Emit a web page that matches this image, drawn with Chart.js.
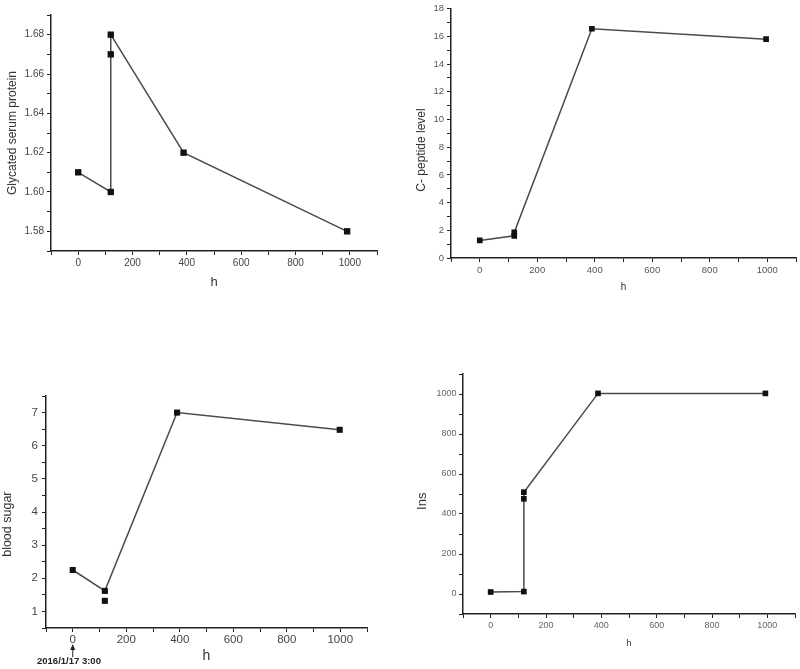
<!DOCTYPE html>
<html>
<head>
<meta charset="utf-8">
<title>Glucose panels</title>
<script src="https://cdn.jsdelivr.net/npm/chart.js@4.4.1/dist/chart.umd.min.js"></script>
<style>
  html, body { margin: 0; padding: 0; background: #fff; }
  #wrap { position: relative; width: 800px; height: 669px; overflow: hidden; }
  .panel { position: absolute; }
  canvas { display: block; }
</style>
</head>
<body>
<div id="wrap">
  <div class="panel" style="left:0;top:0"><canvas id="gsp" width="400" height="300"></canvas></div>
  <div class="panel" style="left:400px;top:0"><canvas id="cpep" width="400" height="300"></canvas></div>
  <div class="panel" style="left:0;top:330px"><canvas id="sugar" width="400" height="339"></canvas></div>
  <div class="panel" style="left:400px;top:330px"><canvas id="ins" width="400" height="339"></canvas></div>
</div>
<script>
// ---------- DATA ----------
const X_TICK_LABELS = [0, 200, 400, 600, 800, 1000];

const GSP_HOURS = [0, 120, 120, 120, 388, 990];
const GSP_VALUES = [1.61, 1.60, 1.67, 1.68, 1.62, 1.58];
const GSP_TICKS = [1.58, 1.60, 1.62, 1.64, 1.66, 1.68];

const CPEP_HOURS = [0, 120, 120, 390, 996];
const CPEP_VALUES = [1.27, 1.6, 1.85, 16.55, 15.8];
const CPEP_TICKS = [0, 2, 4, 6, 8, 10, 12, 14, 16, 18];

const SUGAR_HOURS = [0, 120, 390, 998];
const SUGAR_VALUES = [2.25, 1.62, 7.0, 6.48];
const SUGAR_EXTRA_HOURS = [120];
const SUGAR_EXTRA_VALUES = [1.32];
const SUGAR_TICKS = [1, 2, 3, 4, 5, 6, 7];

const INS_HOURS = [0, 120, 120, 120, 388, 993];
const INS_VALUES = [10, 12, 476, 509, 1003, 1003];
const INS_TICKS = [0, 200, 400, 600, 800, 1000];

const NOTE_TEXT = "2016/1/17 3:00";

const FONT = "'Liberation Sans', Arial, sans-serif";

// ---------- HELPERS ----------
function points(xs, ys) {
  return xs.map((x, i) => ({ x, y: ys[i] }));
}

function labelIf(list, digits) {
  return v => (list.some(t => Math.abs(t - v) < 1e-6) ? Number(v).toFixed(digits) : "");
}

// axis titles in the original sit a little below the axis middle;
// trailing no-break spaces push the rotated text down
function lowered(text, n) {
  return text + "\u00a0".repeat(n);
}

function series(xs, ys, radius, line) {
  return {
    data: points(xs, ys),
    showLine: line,
    borderColor: "#4a4a4a",
    borderWidth: 1.5,
    tension: 0,
    pointStyle: "rect",
    pointRadius: radius,
    pointBackgroundColor: "#111",
    pointBorderColor: "#111",
    pointBorderWidth: 0,
  };
}

function buildPanel(id, p) {
  const datasets = [series(p.hours, p.values, p.marker, true)];
  if (p.extraHours) datasets.push(series(p.extraHours, p.extraValues, p.marker, false));

  return new Chart(document.getElementById(id), {
    type: "scatter",
    data: { datasets },
    options: {
      responsive: false,
      animation: false,
      events: [],
      layout: { padding: { left: 0, top: p.pad.top, right: p.pad.right, bottom: 0 } },
      plugins: { legend: { display: false }, tooltip: { enabled: false } },
      scales: {
        x: {
          type: "linear",
          min: -100,
          max: 1100,
          afterFit: s => { s.height = p.xHeight; },
          border: { color: "#222", width: 1.5 },
          grid: { drawOnChartArea: false, tickLength: 4, tickColor: "#222", tickWidth: 1 },
          ticks: {
            stepSize: 100,
            maxTicksLimit: 100,
            autoSkip: false,
            maxRotation: 0,
            padding: p.xTickPad,
            color: p.tickColor,
            font: { family: FONT, size: p.tickSize },
            callback: labelIf(X_TICK_LABELS, 0),
          },
          title: {
            display: true,
            text: "h",
            color: "#333",
            font: { family: FONT, size: p.xTitleSize },
            padding: { top: 0, bottom: p.xTitlePad },
          },
        },
        y: {
          type: "linear",
          min: p.yMin,
          max: p.yMax,
          afterFit: s => { s.width = p.yWidth; },
          border: { color: "#222", width: 1.5 },
          grid: { drawOnChartArea: false, tickLength: 4, tickColor: "#222", tickWidth: 1 },
          ticks: {
            stepSize: p.yStep,
            maxTicksLimit: 100,
            autoSkip: false,
            padding: p.yTickPad,
            color: p.tickColor,
            font: { family: FONT, size: p.tickSize },
            callback: labelIf(p.yTicks, p.yDigits),
          },
          title: {
            display: true,
            text: p.yTitle,
            color: "#333",
            font: { family: FONT, size: p.yTitleSize },
            padding: { top: p.yTitlePad, bottom: 0 },
          },
        },
      },
    },
    plugins: p.plugins || [],
  });
}

// ---------- START-TIME NOTE (blood sugar panel) ----------
const dateNote = {
  id: "dateNote",
  afterDraw(chart) {
    const { ctx } = chart;
    const px = chart.scales.x.getPixelForValue(0);
    ctx.save();
    ctx.strokeStyle = "#222";
    ctx.fillStyle = "#222";
    ctx.lineWidth = 1;
    ctx.beginPath();
    ctx.moveTo(px, 327);
    ctx.lineTo(px, 318);
    ctx.stroke();
    ctx.beginPath();
    ctx.moveTo(px, 314);
    ctx.lineTo(px - 2.5, 320);
    ctx.lineTo(px + 2.5, 320);
    ctx.closePath();
    ctx.fill();
    ctx.font = "bold 9.5px " + FONT;
    ctx.textAlign = "left";
    ctx.textBaseline = "middle";
    ctx.fillText(NOTE_TEXT, 37, 331);
    ctx.restore();
  },
};

// ---------- PANELS ----------
buildPanel("gsp", {
  hours: GSP_HOURS, values: GSP_VALUES, marker: 4.5,
  pad: { top: 15, right: 23 }, yWidth: 51, xHeight: 49,
  yMin: 1.57, yMax: 1.69, yStep: 0.01, yTicks: GSP_TICKS, yDigits: 2,
  yTitle: "Glycated serum protein", yTitleSize: 12, yTitlePad: 5.5, yTickPad: 3,
  xTitleSize: 13, xTitlePad: 9.5, xTickPad: 2,
  tickSize: 10, tickColor: "#444",
});

buildPanel("cpep", {
  hours: CPEP_HOURS, values: CPEP_VALUES, marker: 4,
  pad: { top: 7, right: 3 }, yWidth: 51, xHeight: 42,
  yMin: 0, yMax: 18, yStep: 1, yTicks: CPEP_TICKS, yDigits: 0,
  yTitle: lowered("C- peptide level", 10), yTitleSize: 12, yTitlePad: 14.5, yTickPad: 3,
  xTitleSize: 10, xTitlePad: 7, xTickPad: 3,
  tickSize: 9.5, tickColor: "#555",
});

buildPanel("sugar", {
  hours: SUGAR_HOURS, values: SUGAR_VALUES, marker: 4.3,
  extraHours: SUGAR_EXTRA_HOURS, extraValues: SUGAR_EXTRA_VALUES,
  pad: { top: 66, right: 33 }, yWidth: 46, xHeight: 41,
  yMin: 0.5, yMax: 7.5, yStep: 0.5, yTicks: SUGAR_TICKS, yDigits: 0,
  yTitle: lowered("blood sugar", 7), yTitleSize: 12.5, yTitlePad: 0, yTickPad: 4,
  xTitleSize: 14, xTitlePad: 4.6, xTickPad: 1,
  tickSize: 11.5, tickColor: "#444",
  plugins: [dateNote],
});

buildPanel("ins", {
  hours: INS_HOURS, values: INS_VALUES, marker: 4,
  pad: { top: 44, right: 5 }, yWidth: 63, xHeight: 55,
  yMin: -100, yMax: 1100, yStep: 100, yTicks: INS_TICKS, yDigits: 0,
  yTitle: lowered("Ins", 4), yTitleSize: 13, yTitlePad: 15, yTickPad: 2.5,
  xTitleSize: 9, xTitlePad: 20, xTickPad: 2,
  tickSize: 9, tickColor: "#666",
});
</script>
</body>
</html>
